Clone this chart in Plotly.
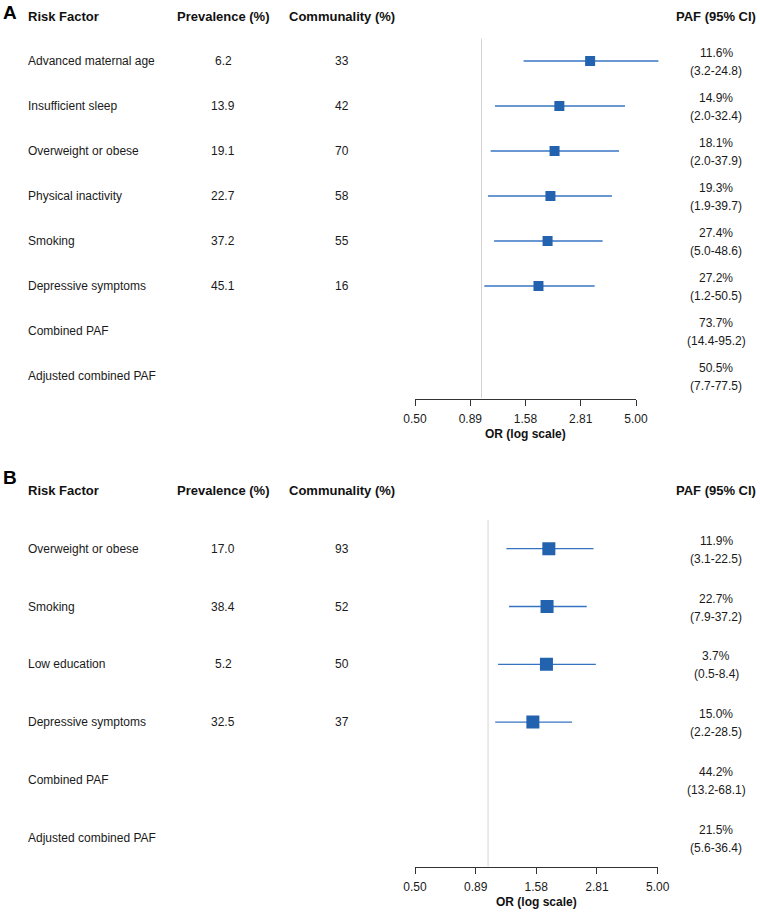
import math
import plotly.graph_objects as go

# ---------------- data ----------------
A_factors = ["Advanced maternal age", "Insufficient sleep", "Overweight or obese",
             "Physical inactivity", "Smoking", "Depressive symptoms"]
A_prev = ["6.2", "13.9", "19.1", "22.7", "37.2", "45.1"]
A_comm = ["33", "42", "70", "58", "55", "16"]
A_or = [3.10, 2.25, 2.14, 2.05, 1.99, 1.81]
A_lo = [1.55, 1.15, 1.10, 1.07, 1.14, 1.03]
A_hi = [6.31, 4.46, 4.19, 3.89, 3.53, 3.25]
A_paf = ["11.6%", "14.9%", "18.1%", "19.3%", "27.4%", "27.2%", "73.7%", "50.5%"]
A_ci = ["(3.2-24.8)", "(2.0-32.4)", "(2.0-37.9)", "(1.9-39.7)", "(5.0-48.6)",
        "(1.2-50.5)", "(14.4-95.2)", "(7.7-77.5)"]

B_factors = ["Overweight or obese", "Smoking", "Low education", "Depressive symptoms"]
B_prev = ["17.0", "38.4", "5.2", "32.5"]
B_comm = ["93", "52", "50", "37"]
B_or = [1.78, 1.75, 1.74, 1.53]
B_lo = [1.19, 1.22, 1.10, 1.07]
B_hi = [2.72, 2.55, 2.78, 2.22]
B_paf = ["11.9%", "22.7%", "3.7%", "15.0%", "44.2%", "21.5%"]
B_ci = ["(3.1-22.5)", "(7.9-37.2)", "(0.5-8.4)", "(2.2-28.5)", "(13.2-68.1)", "(5.6-36.4)"]

extra_rows = ["Combined PAF", "Adjusted combined PAF"]
headers = ["Risk Factor", "Prevalence (%)", "Communality (%)", "PAF (95% CI)"]
tick_vals = [0.50, 0.89, 1.58, 2.81, 5.00]
tick_text = ["0.50", "0.89", "1.58", "2.81", "5.00"]

# ---------------- style ----------------
W, H = 760, 912
FONT = "Liberation Sans, Arial, sans-serif"
TXT = "#1a1a1a"
BLUE = "#2262ae"
LINEBLUE = "#3674c2"
REF = "#d4d4d4"
AX = "#333333"

X_RF = 26 / W
X_PREV = 223 / W
X_COMM = 342 / W
X_PAF = 716 / W

fig = go.Figure()


def add_panel(factors, prev, comm, orv, lo, hi, paf, ci, xdata, xvis, yref,
              msize, letter, letter_y):
    n = len(factors) + len(extra_rows)
    rows = list(range(len(factors)))
    # reference line at OR = 1 (drawn on the visible OR axis)
    fig.add_trace(go.Scatter(x=[1, 1], y=[-0.5, n - 0.5], mode="lines",
                             line=dict(color=REF, width=1), xaxis=xvis, yaxis=yref,
                             hoverinfo="skip"))
    # CI lines
    cx, cy = [], []
    for i in rows:
        cx += [lo[i], hi[i], None]
        cy += [i, i, None]
    fig.add_trace(go.Scatter(x=cx, y=cy, mode="lines",
                             line=dict(color=LINEBLUE, width=1.3),
                             xaxis=xdata, yaxis=yref, hoverinfo="skip"))
    fig.add_trace(go.Scatter(x=orv, y=rows, mode="markers",
                             marker=dict(symbol="square", size=msize, color=BLUE,
                                         line=dict(width=0)),
                             xaxis=xdata, yaxis=yref))
    yr = yref
    ann = []
    for txt, xp, anc in zip(headers, [X_RF, X_PREV, X_COMM, X_PAF],
                            ["left", "center", "center", "center"]):
        ann.append(dict(text="<b>%s</b>" % txt, x=xp, y=-1, xref="paper", yref=yr,
                        xanchor=anc, yanchor="middle", showarrow=False,
                        font=dict(size=13, color="#111111", family=FONT)))
    labels = factors + extra_rows
    for i, lab in enumerate(labels):
        ann.append(dict(text=lab, x=X_RF, y=i, xref="paper", yref=yr, xanchor="left",
                        yanchor="middle", showarrow=False,
                        font=dict(size=12, color=TXT, family=FONT)))
        ann.append(dict(text=paf[i], x=X_PAF, y=i, xref="paper", yref=yr,
                        xanchor="center", yanchor="middle", yshift=8, showarrow=False,
                        font=dict(size=12, color=TXT, family=FONT)))
        ann.append(dict(text=ci[i], x=X_PAF, y=i, xref="paper", yref=yr,
                        xanchor="center", yanchor="middle", yshift=-10, showarrow=False,
                        font=dict(size=12, color=TXT, family=FONT)))
    for i in rows:
        ann.append(dict(text=prev[i], x=X_PREV, y=i, xref="paper", yref=yr,
                        xanchor="center", yanchor="middle", showarrow=False,
                        font=dict(size=12, color=TXT, family=FONT)))
        ann.append(dict(text=comm[i], x=X_COMM, y=i, xref="paper", yref=yr,
                        xanchor="center", yanchor="middle", showarrow=False,
                        font=dict(size=12, color=TXT, family=FONT)))
    ann.append(dict(text="<b>OR (log scale)</b>", x=0.5, y=0, xref=xvis + " domain",
                    yref=yref + " domain", xanchor="center", yanchor="middle",
                    yshift=-35, showarrow=False,
                    font=dict(size=12, color="#111111", family=FONT)))
    ann.append(dict(text="<b>%s</b>" % letter, x=1 / W, y=letter_y, xref="paper",
                    yref="paper", xanchor="left", yanchor="middle", showarrow=False,
                    font=dict(size=19, color="#000000", family=FONT)))
    return ann


annotations = []
annotations += add_panel(A_factors, A_prev, A_comm, A_or, A_lo, A_hi, A_paf, A_ci,
                         "x3", "x", "y", 10, "A", 1 - 12 / H)
annotations += add_panel(B_factors, B_prev, B_comm, B_or, B_lo, B_hi, B_paf, B_ci,
                         "x2", "x2", "y2", 13, "B", 1 - 477 / H)

lo_log = math.log10(0.5)
nA = len(A_factors) + len(extra_rows)
nB = len(B_factors) + len(extra_rows)
A_axis_px = 61 + 45 * (nA - 0.5)
B_axis_px = 548.7 + 57.8 * (nB - 0.5)

common_x = dict(type="log", showgrid=False, zeroline=False, fixedrange=True)
vis_x = dict(common_x, showline=True, linecolor=AX, linewidth=1, ticks="outside",
             ticklen=6, tickwidth=1, tickcolor=AX, tickvals=tick_vals, ticktext=tick_text,
             tickfont=dict(size=12, color=TXT, family=FONT), ticklabelstandoff=3,
             range=[lo_log, math.log10(5)], automargin=False)

fig.update_layout(
    width=W, height=H, autosize=False,
    margin=dict(l=0, r=0, t=0, b=0, pad=0, autoexpand=False),
    paper_bgcolor="white", plot_bgcolor="rgba(0,0,0,0)", showlegend=False,
    font=dict(family=FONT, color=TXT),
    xaxis=dict(vis_x, domain=[415 / W, 636 / W], anchor="y"),
    xaxis3=dict(common_x, visible=False, domain=[415 / W, 680 / W], anchor="y",
                range=[lo_log, lo_log + 265 / 221], automargin=False),
    yaxis=dict(visible=False, domain=[1 - A_axis_px / H, 1], automargin=False,
               range=[nA - 0.5, (nA - 0.5) - A_axis_px / 45], fixedrange=True),
    xaxis2=dict(vis_x, domain=[415 / W, 657.7 / W], anchor="y2"),
    yaxis2=dict(visible=False, domain=[1 - B_axis_px / H, 1 - 460 / H], automargin=False,
                range=[nB - 0.5, (460 - 548.7) / 57.8], fixedrange=True),
    annotations=annotations,
)

fig.write_html("out.html")
